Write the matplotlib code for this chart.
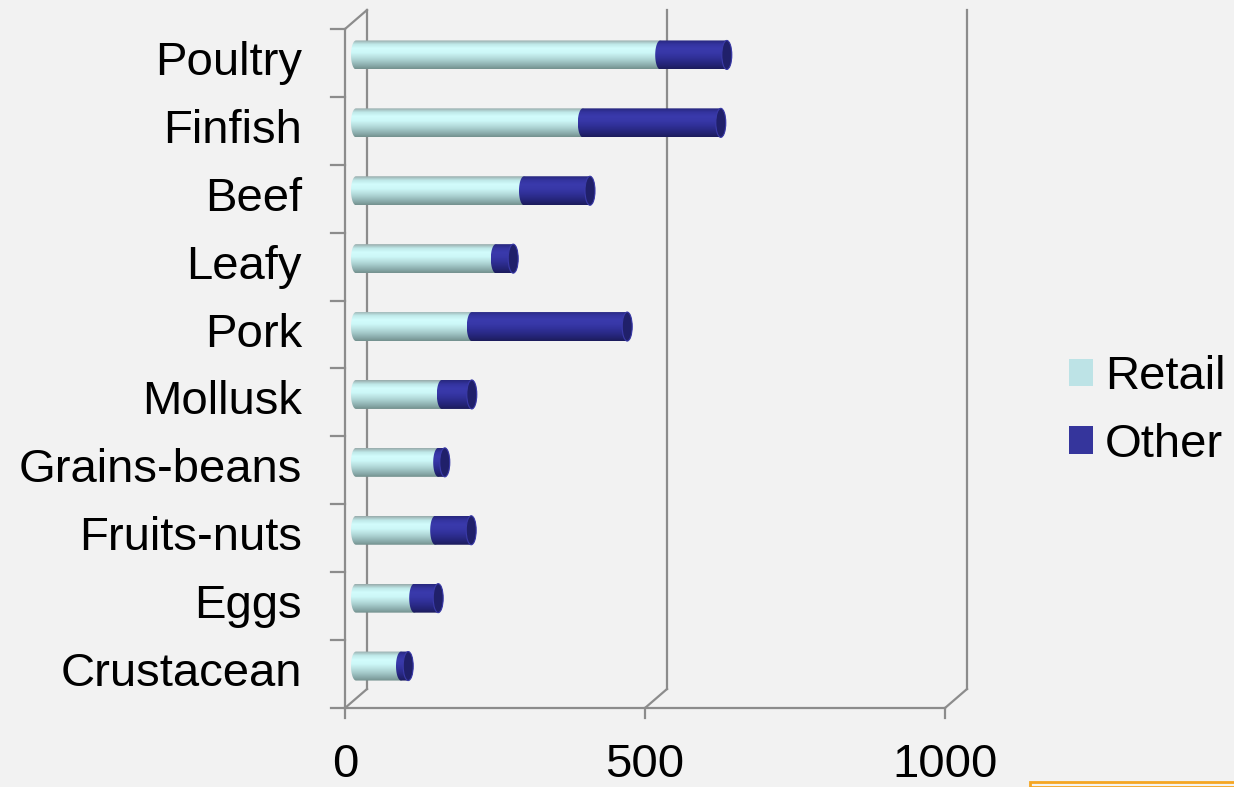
import numpy as np
import matplotlib.pyplot as plt
from matplotlib.path import Path
from matplotlib.patches import PathPatch, Ellipse, Patch, Rectangle

# food categories, bottom to top
categories = ['Crustacean', 'Eggs', 'Fruits-nuts', 'Grains-beans', 'Mollusk',
              'Pork', 'Leafy', 'Beef', 'Finfish', 'Poultry']
retail = [75, 97, 132, 137, 143, 193, 233, 280, 378, 507]
other = [12, 40, 60, 11, 50, 259, 29, 110, 230, 111]
series = ['Retail', 'Other']
xticks = [0, 500, 1000]

BG = '#f2f2f2'
GRID = '#8c8c8c'

# pixel scale: 0.6 px per unit on x, 67.9 px per category on y
W, H = 1234, 787
px_x = 0.6
px_y = 67.9
x0_px, y0_px = 345, 708
dx = 22 / px_x          # depth offset of the back wall
dy = 19 / px_y
bh = 14.5 / px_y        # cylinder half height
cw = 5 / px_x           # end-cap half width

fig = plt.figure(figsize=(W / 100, H / 100), dpi=100, facecolor=BG)
ax = fig.add_axes([0, 0, 1, 1])
ax.set_facecolor(BG)
ax.axis('off')

n = len(categories)
lw = 1.6

# walls and floor
for v in xticks:
    ax.plot([v + dx, v + dx], [dy, n + dy], color=GRID, lw=lw, zorder=1)
    ax.plot([v, v + dx], [0, dy], color=GRID, lw=lw, zorder=1)
    ax.plot([v, v], [0, -10 / px_y], color=GRID, lw=lw, zorder=1)
ax.plot([0, xticks[-1]], [0, 0], color=GRID, lw=lw, zorder=1)
ax.plot([0, 0], [0, n], color=GRID, lw=lw, zorder=1)
ax.plot([0, dx], [n, n + dy], color=GRID, lw=lw, zorder=1)
for k in range(n + 1):
    ax.plot([-14 / px_x, 0], [k, k], color=GRID, lw=lw, zorder=1)

# category and value labels
fs = 34
for k, name in enumerate(categories):
    ax.text(-43 / px_x, k + 0.5, name, ha='right', va='center', fontsize=fs,
            family='Liberation Sans', color='black')
for v in xticks:
    ax.text(v, -57 / px_y, str(v), ha='center', va='center', fontsize=fs,
            family='Liberation Sans', color='black')

# top rows first: grey rim, bright highlight, then shading downwards
retail_grad = ['#98acac', '#c0eaea', '#d2fcfc', '#cdf8f8', '#bce4e4',
               '#a6cccc', '#8eb0b0', '#74918f']
other_grad = ['#28287e', '#3434a0', '#3a3aac', '#3838a8', '#32329c',
              '#2b2b8a', '#242476', '#1c1c5c']


def cylinder(a, b, yc, colors, z):
    # body with a rounded left end and a rounded right end
    th = np.linspace(-np.pi / 2, np.pi / 2, 30)
    xs = list(b + cw * np.cos(th))
    ys = list(yc + bh * np.sin(th))
    th2 = np.linspace(np.pi / 2, 3 * np.pi / 2, 30)
    xs += list(a + cw * np.cos(th2))
    ys += list(yc + bh * np.sin(th2))
    verts = list(zip(xs, ys)) + [(xs[0], ys[0])]
    clip = PathPatch(Path(verts), facecolor='none', edgecolor='none',
                     transform=ax.transData)
    ax.add_patch(clip)
    cmap = plt.matplotlib.colors.LinearSegmentedColormap.from_list('c', colors)
    grad = np.linspace(0, 1, 64).reshape(-1, 1)
    im = ax.imshow(grad, cmap=cmap, aspect='auto', interpolation='bilinear',
                   origin='upper', extent=[a - cw, b + cw, yc - bh, yc + bh],
                   zorder=z)
    im.set_clip_path(clip)


for k in range(n):
    yc = k + 0.5 + 8 / px_y
    a = dx / 2
    r = a + retail[k]
    t = r + other[k]
    cylinder(a, r, yc, retail_grad, 2)
    cylinder(r, t, yc, other_grad, 3)
    ax.add_patch(Ellipse((t, yc), 2 * cw, 2 * bh, facecolor='#20206a',
                         edgecolor='#3a3aa8', lw=0.8, zorder=4))

ax.set_xlim(-x0_px / px_x, (W - x0_px) / px_x)
ax.set_ylim(-(H - y0_px) / px_y, y0_px / px_y)

handles = [Patch(facecolor='#bde3e6', edgecolor='none'),
           Patch(facecolor='#35359c', edgecolor='none')]
leg = fig.legend(handles, series, loc='center left',
                 bbox_to_anchor=(1069 / W, 1 - 411 / H), frameon=False,
                 prop={'family': 'Liberation Sans', 'size': fs},
                 handlelength=0.51, handleheight=0.51, handletextpad=0.25,
                 labelspacing=0.5, borderaxespad=0, borderpad=0)

fig.patches.append(Rectangle((1030 / W, 0), 1, 5 / H, transform=fig.transFigure,
                             facecolor='#f4f4f4', edgecolor='#f5a623', lw=2,
                             figure=fig))

fig.savefig('out.png', dpi=100, facecolor=BG)
